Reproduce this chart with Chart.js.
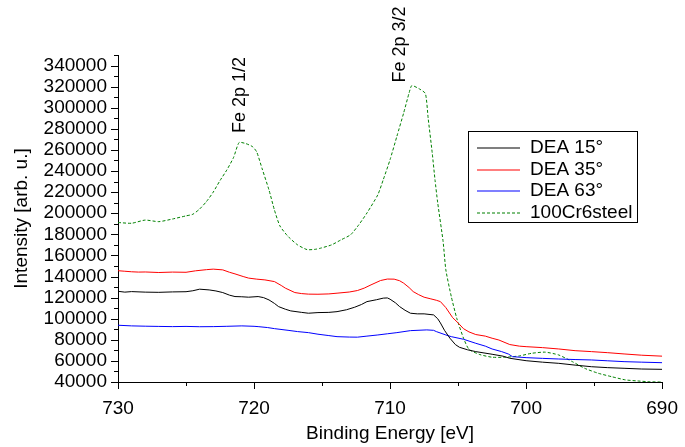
<!DOCTYPE html>
<html>
<head>
<meta charset="utf-8">
<script src="https://cdn.jsdelivr.net/npm/chart.js@4"></script>
<style>
  html, body { margin: 0; padding: 0; background: #fff; }
  #wrap { width: 685px; height: 447px; }
</style>
</head>
<body>
<div id="wrap"><canvas id="xps" width="685" height="447"></canvas></div>
<script>
// series labels
const seriesNames = ['DEA 15°', 'DEA 35°', 'DEA 63°', '100Cr6steel'];

// tick labels
const yTickValues = [40000, 60000, 80000, 100000, 120000, 140000, 160000, 180000, 200000, 220000, 240000, 260000, 280000, 300000, 320000, 340000];
const xTickValues = [730, 720, 710, 700, 690];

// DEA 15° (black)
const e15 = [730, 729.5, 729, 728, 727, 726, 725, 724.5, 724, 723.3, 722.8, 722.3, 721.8, 721.4, 720.9, 720.4, 719.7, 719.3, 718.9, 718.5, 718.2, 717.7, 717.3, 716.5, 716, 715.3, 714.5, 713.9, 713.2, 712.6, 712.1, 711.7, 711, 710.5, 710.2, 710, 709.6, 709.3, 708.9, 708.5, 708, 707.5, 706.8, 706.5, 706.3, 706, 705.6, 705.2, 704.9, 704.3, 703.7, 702.5, 701.7, 701.2, 700, 698.8, 697.6, 696.4, 695.2, 694, 692.8, 691.5, 690];
const i15 = [126000, 125200, 125700, 125200, 125000, 125400, 125600, 126500, 128000, 127300, 126300, 124800, 122300, 121000, 120800, 120400, 121000, 120000, 117800, 114500, 111500, 109000, 107400, 106000, 105200, 105800, 106000, 106700, 108500, 110900, 113500, 116200, 118000, 119500, 119700, 118500, 115000, 111500, 108000, 105200, 104600, 104600, 103600, 100000, 96000, 89000, 81500, 75500, 72900, 70500, 68800, 66300, 64500, 62500, 60200, 58800, 57700, 56000, 54500, 53600, 53000, 52300, 52000];

// DEA 35° (red)
const e35 = [730, 729.5, 729, 728.5, 728, 727, 726, 725, 724.3, 723.5, 723, 722.3, 721.8, 721.4, 720.8, 720.4, 719.8, 719.2, 718.5, 718, 717.7, 717, 716.5, 716, 715.3, 714.5, 713.9, 713, 712.4, 711.9, 711.4, 710.7, 710.2, 709.7, 709.3, 709, 708.6, 708.3, 707.9, 707.5, 707, 706.6, 706.3, 705.9, 705.4, 705, 704.6, 704.2, 703.7, 703, 702.5, 702, 701.2, 700.5, 700, 698.8, 697.6, 696.4, 695.2, 694, 692.8, 691.5, 690];
const i35 = [145500, 145000, 144500, 144200, 144300, 143800, 144200, 144000, 145400, 146500, 147000, 146300, 144000, 142500, 140000, 138500, 137500, 136800, 135200, 131500, 129000, 124800, 123800, 123300, 123200, 123500, 124200, 125300, 126700, 129000, 132100, 136200, 137600, 137500, 136000, 133700, 129500, 125700, 122800, 120400, 118800, 117500, 116200, 110500, 101000, 96000, 90500, 87500, 85000, 83500, 81500, 79800, 75500, 74000, 73500, 72600, 71300, 69700, 68800, 67800, 66600, 65400, 64500];

// DEA 63° (blue)
const e63 = [730, 729, 728, 727, 726, 725, 724, 723, 722, 720.9, 720, 719.7, 719, 718.5, 717.5, 716.8, 716, 715.3, 714.5, 713.9, 713, 712.4, 711.7, 710.9, 710.2, 709.5, 708.5, 707.3, 706.8, 706.6, 705.9, 705.5, 704.6, 703.7, 703, 702.5, 701.8, 701.3, 701, 700, 698.8, 697.6, 696.4, 695.2, 694, 692.8, 691.5, 690];
const i63 = [93800, 93200, 92900, 92700, 92500, 92700, 92400, 92500, 92800, 93200, 92800, 92500, 91600, 90600, 89000, 87800, 86800, 85300, 84000, 83000, 82600, 82500, 83500, 84600, 85700, 86800, 88700, 89400, 89000, 87800, 84600, 83000, 80500, 76700, 74000, 71300, 68800, 66500, 64000, 63100, 62400, 61800, 61300, 60900, 60100, 59300, 58800, 58300];

// 100Cr6steel (green, dashed)
const eSteel = [730, 729, 728, 727, 726, 725, 724.5, 724, 723.5, 723, 722.5, 722, 721.5, 721.1, 720.6, 720.1, 719.8, 719.4, 718.9, 718.5, 718.1, 717.5, 716.8, 716.1, 715.5, 715.1, 714.3, 713.6, 712.9, 712.3, 711.7, 710.9, 710.5, 710, 709.5, 709, 708.6, 708.4, 707.8, 707.4, 707.2, 706.9, 706.7, 706.5, 706.1, 705.9, 705.5, 705.1, 704.6, 704.2, 703.4, 702.5, 701.5, 700.5, 699.6, 698.6, 697.6, 696.6, 695.7, 694.7, 693.7, 692.7, 691.8, 690.9, 690];
const iSteel = [191200, 190500, 193500, 192000, 194500, 197500, 199000, 204000, 211000, 220000, 231000, 241000, 253000, 267000, 266000, 263000, 258000, 242000, 222000, 203000, 188000, 178000, 170000, 165500, 165800, 166900, 170000, 174800, 179600, 189000, 200200, 217500, 231800, 250800, 272900, 295100, 314100, 321000, 317500, 313400, 290000, 257000, 232000, 210000, 173000, 146300, 121000, 100500, 81500, 71000, 66000, 63500, 63500, 64700, 67200, 68300, 65600, 59300, 53000, 48300, 45000, 42000, 41000, 40200, 40000];

// peak labels (energy, and intensity where the text ends)
const peakNames = ['Fe 2p 1/2', 'Fe 2p 3/2'];
const peakEnergy = [721.0, 709.3];
const peakLabelBase = [276000, 324000];

const colors = ['#000000', '#ff0000', '#0000ff', '#008000'];
const FONT = "'Liberation Sans', Arial, sans-serif";

function pts(xs, ys) {
  return xs.map((x, i) => ({ x: x, y: ys[i] }));
}

// hand drawn axis ticks, major + minor, outward
const tickPlugin = {
  id: 'ticks',
  afterDraw(chart) {
    const c = chart.ctx;
    const xs = chart.scales.x, ys = chart.scales.y;
    const a = chart.chartArea;
    c.save();
    c.strokeStyle = '#000';
    c.lineWidth = 1;
    c.beginPath();
    for (let v = 40000; v <= 350000; v += 10000) {
      const y = Math.round(ys.getPixelForValue(v)) + 0.5;
      const len = (v % 20000 === 0) ? 7 : 4;
      c.moveTo(a.left - len, y);
      c.lineTo(a.left, y);
    }
    for (let v = 690; v <= 730; v += 5) {
      const x = Math.round(xs.getPixelForValue(v)) + 0.5;
      const len = (v % 10 === 0) ? 7 : 4;
      c.moveTo(x, a.bottom);
      c.lineTo(x, a.bottom + len);
    }
    c.stroke();

    // peak labels, rotated
    c.fillStyle = '#000';
    c.font = '18px ' + FONT;
    c.textAlign = 'left';
    c.textBaseline = 'middle';
    peakNames.forEach((t, i) => {
      const x = xs.getPixelForValue(peakEnergy[i]);
      const y = ys.getPixelForValue(peakLabelBase[i]);
      c.save();
      c.translate(x, y);
      c.rotate(-Math.PI / 2);
      c.fillText(t, 0, 0);
      c.restore();
    });

    // legend box
    const bx = 468, by = 131, bw = 169, bh = 91;
    c.fillStyle = '#fff';
    c.fillRect(bx, by, bw, bh);
    c.strokeStyle = '#000';
    c.strokeRect(bx + 0.5, by + 0.5, bw, bh);
    c.font = '19px ' + FONT;
    seriesNames.forEach((n, i) => {
      const ly = by + 17 + i * 21.5;
      c.strokeStyle = colors[i];
      c.lineWidth = 1.2;
      c.setLineDash(i === 3 ? [3, 2] : []);
      c.beginPath();
      c.moveTo(bx + 9, Math.round(ly));
      c.lineTo(bx + 52, Math.round(ly));
      c.stroke();
      c.setLineDash([]);
      c.fillStyle = '#000';
      c.textBaseline = 'middle';
      c.fillText(n, bx + 62, ly);
    });
    c.restore();
  }
};

new Chart(document.getElementById('xps'), {
  type: 'line',
  data: {
    datasets: [
      { label: seriesNames[0], data: pts(e15, i15), borderColor: colors[0], borderWidth: 1, pointRadius: 0, tension: 0 },
      { label: seriesNames[1], data: pts(e35, i35), borderColor: colors[1], borderWidth: 1, pointRadius: 0, tension: 0 },
      { label: seriesNames[2], data: pts(e63, i63), borderColor: colors[2], borderWidth: 1, pointRadius: 0, tension: 0 },
      { label: seriesNames[3], data: pts(eSteel, iSteel), borderColor: colors[3], borderWidth: 1, borderDash: [3, 2], pointRadius: 0, tension: 0.2 }
    ]
  },
  options: {
    responsive: false,
    animation: false,
    layout: { padding: { left: 0, right: 17, top: 55, bottom: 0 } },
    plugins: { legend: { display: false }, tooltip: { enabled: false } },
    scales: {
      x: {
        type: 'linear',
        reverse: true,
        min: 690,
        max: 730,
        afterBuildTicks: (s) => { s.ticks = xTickValues.map(v => ({ value: v })); },
        afterFit: (s) => { s.height = 65; },
        grid: { display: false },
        border: { display: true, color: '#000', width: 1 },
        ticks: {
          padding: 7,
          color: '#000',
          maxRotation: 0,
          autoSkip: false,
          font: { family: FONT, size: 19 }
        },
        title: {
          display: true,
          text: 'Binding Energy [eV]',
          color: '#000',
          padding: { top: 0, bottom: 2 },
          font: { family: FONT, size: 19 }
        }
      },
      y: {
        min: 40000,
        max: 350000,
        afterBuildTicks: (s) => { s.ticks = yTickValues.map(v => ({ value: v })); },
        afterFit: (s) => { s.width = 118; },
        grid: { display: false },
        border: { display: true, color: '#000', width: 1 },
        ticks: {
          padding: 3,
          color: '#000',
          autoSkip: false,
          font: { family: FONT, size: 19 },
          callback: (v) => String(v)
        },
        title: {
          display: true,
          text: 'Intensity [arb. u.]',
          color: '#000',
          padding: { top: 10, bottom: 0 },
          font: { family: FONT, size: 19 }
        }
      }
    }
  },
  plugins: [tickPlugin]
});
</script>
</body>
</html>
